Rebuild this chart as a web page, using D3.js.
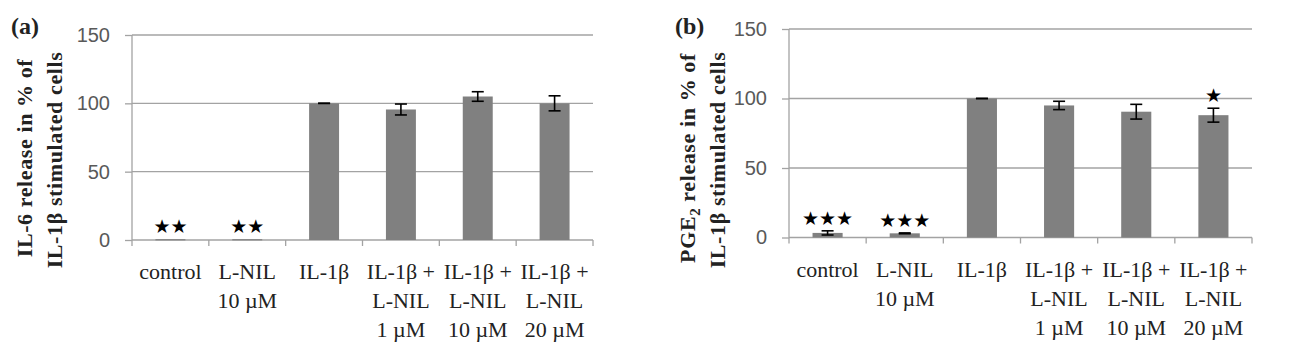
<!DOCTYPE html>
<html>
<head>
<meta charset="utf-8">
<script src="https://cdn.jsdelivr.net/npm/d3@7"></script>
<style>
  body { margin: 0; background: #fff; }
  svg { display: block; }
</style>
</head>
<body>
<div id="chart"></div>
<script>
const width = 1293;
const height = 360;

// x categories, one array of lines per bar
const categories = [
  ['control'],
  ['L-NIL', '10 µM'],
  ['IL-1β'],
  ['IL-1β +', 'L-NIL', '1 µM'],
  ['IL-1β +', 'L-NIL', '10 µM'],
  ['IL-1β +', 'L-NIL', '20 µM'],
];
const yTicks = [0, 50, 100, 150];

const il6Values = [0.6, 0.6, 100, 95.5, 105, 100];
const il6Errors = [null, null, 0, 4, 3.5, 5.5];
const il6Stars = ['**', '**', '', '', '', ''];

const pge2Values = [3.3, 3, 100, 95, 90.5, 88];
const pge2Errors = [1.5, 0.3, 0, 3, 5.3, 5];
const pge2Stars = ['***', '***', '', '', '', '*'];

const svg = d3.select('#chart').append('svg')
  .attr('width', width).attr('height', height);

const gridColor = '#a3a3a3';
const barColor = '#808080';

function drawPanel(opts) {
  const g = svg.append('g');
  const x = d3.scaleBand().domain(d3.range(categories.length)).range([opts.left, opts.right]).padding(0);
  const y = d3.scaleLinear().domain([0, 150]).range([opts.bottom, opts.top]);
  const barW = x.bandwidth() * 0.39;

  // gridlines
  g.selectAll('.grid')
    .data(yTicks.filter((d) => d > 0))
    .enter().append('line')
    .attr('x1', opts.left).attr('x2', opts.right)
    .attr('y1', (d) => y(d)).attr('y2', (d) => y(d))
    .style('stroke', gridColor).style('stroke-width', 1.3);

  // y axis
  const yAxis = g.append('g')
    .attr('transform', `translate(${opts.left},0)`)
    .call(d3.axisLeft(y).tickValues(yTicks).tickSize(7).tickPadding(15));
  yAxis.select('.domain').style('stroke', gridColor).style('stroke-width', 1.3).attr('d', `M0,${y(0)}V${y(150)}`);
  yAxis.selectAll('.tick line').style('stroke', gridColor).style('stroke-width', 1.3);
  yAxis.selectAll('.tick text')
    .style('font-family', '"Liberation Sans", Arial, sans-serif')
    .style('font-size', '20px')
    .style('fill', '#595959');

  // x axis line and boundary ticks
  g.append('line')
    .attr('x1', opts.left).attr('x2', opts.right)
    .attr('y1', y(0)).attr('y2', y(0))
    .style('stroke', gridColor).style('stroke-width', 1.3);
  const bounds = categories.map((c, i) => x(i)).concat([opts.right]);
  g.selectAll('.xtick')
    .data(bounds)
    .enter().append('line')
    .attr('x1', (d) => d).attr('x2', (d) => d)
    .attr('y1', y(0)).attr('y2', y(0) + 6)
    .style('stroke', gridColor).style('stroke-width', 1.3);

  // bars
  g.selectAll('.bar')
    .data(opts.values)
    .enter().append('rect')
    .attr('x', (d, i) => x(i) + x.bandwidth() / 2 - barW / 2)
    .attr('y', (d) => y(d))
    .attr('width', barW)
    .attr('height', (d) => Math.max(y(0) - y(d), 1.2))
    .style('fill', barColor);

  // error bars
  const errs = opts.values.map((v, i) => ({ v, e: opts.errors[i], i })).filter((d) => d.e !== null);
  const eg = g.selectAll('.err').data(errs).enter().append('g')
    .style('stroke', '#000').style('stroke-width', 1.6);
  eg.append('line')
    .attr('x1', (d) => x(d.i) + x.bandwidth() / 2).attr('x2', (d) => x(d.i) + x.bandwidth() / 2)
    .attr('y1', (d) => y(d.v - d.e)).attr('y2', (d) => y(d.v + d.e));
  eg.append('line')
    .attr('x1', (d) => x(d.i) + x.bandwidth() / 2 - 6).attr('x2', (d) => x(d.i) + x.bandwidth() / 2 + 6)
    .attr('y1', (d) => y(d.v + d.e)).attr('y2', (d) => y(d.v + d.e));
  eg.append('line')
    .attr('x1', (d) => x(d.i) + x.bandwidth() / 2 - 6).attr('x2', (d) => x(d.i) + x.bandwidth() / 2 + 6)
    .attr('y1', (d) => y(d.v - d.e)).attr('y2', (d) => y(d.v - d.e));

  // significance stars
  g.selectAll('.star')
    .data(opts.stars)
    .enter().append('text')
    .attr('x', (d, i) => x(i) + x.bandwidth() / 2)
    .attr('y', (d, i) => y(opts.values[i] + (opts.errors[i] || 0)) - 6)
    .attr('text-anchor', 'middle')
    .style('font-family', '"DejaVu Sans", sans-serif')
    .style('font-size', '19px')
    .style('fill', '#000')
    .text((d) => d.replace(/\*/g, '★'));

  // category labels
  const lbl = g.selectAll('.xlabel')
    .data(categories)
    .enter().append('text')
    .attr('text-anchor', 'middle')
    .style('font-family', '"Liberation Serif", "Times New Roman", serif')
    .style('font-size', '22px')
    .style('fill', '#222');
  lbl.selectAll('tspan')
    .data((d, i) => d.map((t) => ({ t, i })))
    .enter().append('tspan')
    .attr('x', (d) => x(d.i) + x.bandwidth() / 2)
    .attr('y', (d, j) => y(0) + 39 + j * 29)
    .text((d) => d.t);

  // panel letter
  svg.append('text')
    .attr('x', opts.letterX).attr('y', 34)
    .style('font-family', '"Liberation Serif", serif')
    .style('font-weight', 'bold')
    .style('font-size', '24px')
    .style('fill', '#222')
    .text(opts.letter);

  // y title, two lines
  const tg = svg.append('g')
    .style('font-family', '"Liberation Serif", serif')
    .style('font-weight', 'bold')
    .style('font-size', '22px')
    .style('letter-spacing', '0.6px')
    .style('fill', '#222');
  const t1 = tg.append('text')
    .attr('transform', `translate(${opts.titleX},158) rotate(-90)`)
    .attr('text-anchor', 'middle');
  opts.title1(t1);
  tg.append('text')
    .attr('transform', `translate(${opts.titleX + 30},160) rotate(-90)`)
    .attr('text-anchor', 'middle')
    .text('IL-1β stimulated cells');
}

drawPanel({
  left: 132, right: 593, top: 35, bottom: 240,
  values: il6Values, errors: il6Errors, stars: il6Stars,
  letter: '(a)', letterX: 11, titleX: 32,
  title1: (t) => t.text('IL-6 release in % of'),
});

drawPanel({
  left: 789, right: 1252, top: 29, bottom: 237.5,
  values: pge2Values, errors: pge2Errors, stars: pge2Stars,
  letter: '(b)', letterX: 675, titleX: 695,
  title1: (t) => {
    t.append('tspan').text('PGE');
    t.append('tspan').attr('dy', 5).style('font-size', '15px').text('2');
    t.append('tspan').attr('dy', -5).text(' release in % of');
  },
});
</script>
</body>
</html>
